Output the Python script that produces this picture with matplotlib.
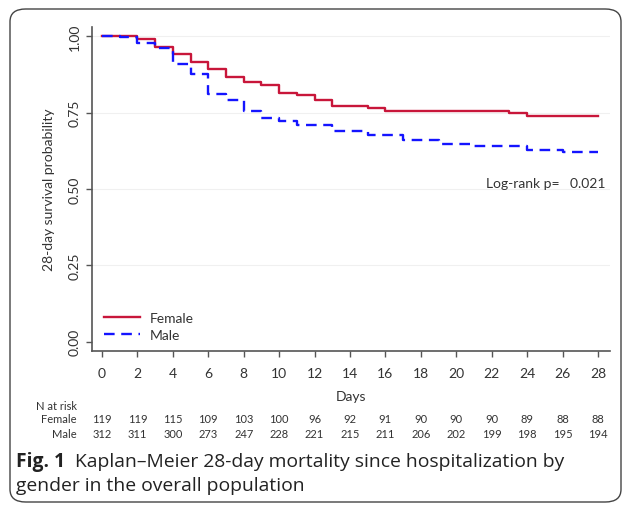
import matplotlib
matplotlib.use('Agg')
import matplotlib.pyplot as plt
from matplotlib.patches import FancyBboxPatch

# ---- data ----
female_times = [0, 2, 3, 4, 5, 6, 7, 8, 9, 10, 11, 12, 13, 15, 16, 23, 24, 28]
female_surv = [1.0, 0.992, 0.966, 0.941, 0.916, 0.891, 0.866, 0.849, 0.840,
               0.815, 0.807, 0.790, 0.773, 0.765, 0.756, 0.748, 0.739, 0.739]
male_times = [0, 1, 2, 3, 4, 5, 6, 7, 8, 9, 10, 11, 13, 15, 17, 19, 21, 24, 26, 28]
male_surv = [1.0, 0.997, 0.978, 0.962, 0.910, 0.875, 0.811, 0.792, 0.756, 0.731,
             0.721, 0.708, 0.689, 0.676, 0.660, 0.647, 0.640, 0.627, 0.622, 0.622]
risk_times = [0, 2, 4, 6, 8, 10, 12, 14, 16, 18, 20, 22, 24, 26, 28]
female_risk = [119, 119, 115, 109, 103, 100, 96, 92, 91, 90, 90, 90, 89, 88, 88]
male_risk = [312, 311, 300, 273, 247, 228, 221, 215, 211, 206, 202, 199, 198, 195, 194]
y_ticks = [0.0, 0.25, 0.5, 0.75, 1.0]
y_tick_labels = ['0.00', '0.25', '0.50', '0.75', '1.00']

W, H = 627, 506
FONT = 'Lato'
RED = '#C8163A'
BLUE = '#1414FF'
GREY = '#555555'

def fx(x):
    return x / W

def fy(y):
    return 1 - y / H

fig = plt.figure(figsize=(W / 100, H / 100), dpi=100)

# rounded frame
frame = FancyBboxPatch((fx(10), fy(503)), fx(611), (503 - 10) / H,
                       boxstyle='round,pad=0,rounding_size=0.025',
                       transform=fig.transFigure, fill=False,
                       edgecolor='#444444', linewidth=1.0)
fig.patches.append(frame)

ax = fig.add_axes([fx(92), fy(352.3), (610 - 92) / W, (352.3 - 28) / H])
ax.set_xlim(-0.565, 28.68)
ax.set_ylim(-0.0314, 1.03)

for yt in y_ticks[1:]:
    ax.axhline(yt, color='#F0F0F0', lw=0.8, zorder=0)

ax.step(female_times, female_surv, where='post', color=RED, lw=1.7,
        label='Female', zorder=3)
ax.step(male_times, male_surv, where='post', color=BLUE, lw=1.7,
        dashes=(4.5, 2.8), label='Male', zorder=4)

for s in ['top', 'right']:
    ax.spines[s].set_visible(False)
for s in ['left', 'bottom']:
    ax.spines[s].set_color(GREY)
    ax.spines[s].set_linewidth(1.2)

ax.set_xticks(risk_times)
ax.set_xticklabels([str(t) for t in risk_times], fontfamily=FONT, fontsize=10)
ax.set_yticks(y_ticks)
ax.set_yticklabels(y_tick_labels, fontfamily=FONT, fontsize=10, rotation=90,
                   va='center')
ax.tick_params(axis='both', direction='out', length=4, width=1.0, color=GREY,
               labelcolor='#333333')
ax.tick_params(axis='x', pad=7)
ax.tick_params(axis='y', pad=4)

ax.set_xlabel('Days', fontfamily=FONT, fontsize=10, color='#333333', labelpad=8)
ax.set_ylabel('28-day survival probability', fontfamily=FONT, fontsize=10,
              color='#333333', labelpad=10)

leg = ax.legend(loc='lower left', bbox_to_anchor=(0.005, 0.003), frameon=False,
                prop={'family': FONT, 'size': 10}, handlelength=2.6,
                handletextpad=0.65, labelspacing=0.35, borderaxespad=0.3)
for t in leg.get_texts():
    t.set_color('#333333')

ax.text(28.4, 0.52, 'Log-rank p=   0.021', ha='right', va='center',
        fontfamily=FONT, fontsize=10, color='#333333')

# numbers at risk table
TS = 8
fig.text(fx(77), fy(406), 'N at risk', ha='right', va='center',
         fontfamily=FONT, fontsize=TS, color='#333333')
fig.text(fx(77), fy(420), 'Female', ha='right', va='center',
         fontfamily=FONT, fontsize=TS, color='#333333')
fig.text(fx(77), fy(434), 'Male', ha='right', va='center',
         fontfamily=FONT, fontsize=TS, color='#333333')
for t, f, m in zip(risk_times, female_risk, male_risk):
    xp = ax.transData.transform((t, 0))[0]
    xf = fig.transFigure.inverted().transform((xp, 0))[0]
    fig.text(xf, fy(420), str(f), ha='center', va='center',
             fontfamily=FONT, fontsize=TS, color='#333333')
    fig.text(xf, fy(434), str(m), ha='center', va='center',
             fontfamily=FONT, fontsize=TS, color='#333333')

# caption
CS = 13.9
cap1a = fig.text(fx(16), fy(467), 'Fig. 1', ha='left', va='baseline',
                 fontfamily='Open Sans', fontweight='bold', fontsize=CS,
                 color='#222222')
fig.canvas.draw()
bb = cap1a.get_window_extent()
x_after = fig.transFigure.inverted().transform((bb.x1, 0))[0]
fig.text(x_after + fx(10), fy(467),
         'Kaplan\u2013Meier 28-day mortality since hospitalization by',
         ha='left', va='baseline', fontfamily='Open Sans', fontsize=CS,
         color='#222222')
fig.text(fx(16), fy(491), 'gender in the overall population', ha='left',
         va='baseline', fontfamily='Open Sans', fontsize=CS, color='#222222')

fig.savefig('out.png', dpi=100)
